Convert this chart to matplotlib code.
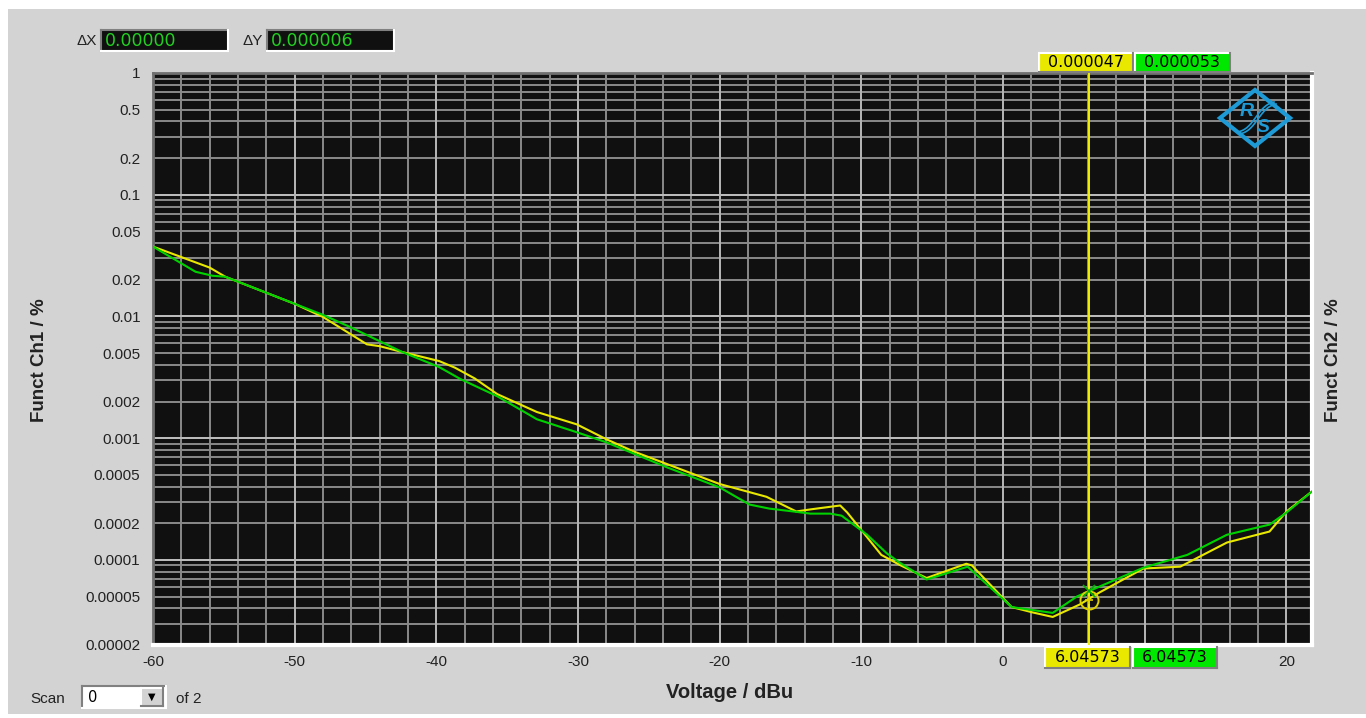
import numpy as np
import matplotlib
matplotlib.use("Agg")
import matplotlib.pyplot as plt
from matplotlib.patches import Rectangle, Polygon
from matplotlib.lines import Line2D
from matplotlib.ticker import FixedLocator, LogLocator, NullFormatter

plt.rcParams['font.family'] = ['Liberation Sans', 'DejaVu Sans']
plt.rcParams['axes.unicode_minus'] = False

W, H = 1366, 718

# Ch1 (yellow) - voltage in dBu / function value in %
ch1_dbu = [-60.0, -56.0, -54.9, -50.0, -48.0, -44.9, -44.0, -42.4, -39.8, -38.7,
           -37.3, -35.7, -32.9, -30.1, -28.0, -26.1, -20.0, -16.7, -14.6, -13.6,
           -11.5, -11.0, -8.6, -7.3, -5.4, -2.6, -2.2, 0.6, 2.1, 3.5,
           5.4, 6.8, 9.9, 12.5, 15.8, 18.8, 20.0, 21.8]
ch1_val = [0.0375, 0.0252, 0.0212, 0.0127, 0.0099, 0.0059, 0.0057, 0.0051, 0.0043, 0.0038,
           0.0031, 0.0023, 0.00164, 0.0013, 0.00098, 0.00078, 0.00042, 0.00033, 0.00025, 0.00026,
           0.00028, 0.000245, 0.00011, 0.000091, 0.000071, 0.000093, 0.00009, 0.000041, 0.000037, 0.000034,
           0.000043, 0.000054, 0.000085, 0.000088, 0.000139, 0.000171, 0.00025, 0.000365]

# Ch2 (green)
ch2_dbu = [-60.0, -57.0, -55.8, -54.9, -50.0, -48.0, -46.1, -42.4, -39.8, -38.3,
           -35.7, -32.9, -30.1, -28.0, -23.7, -20.0, -17.9, -16.5, -14.8, -13.6,
           -12.2, -11.4, -9.6, -8.2, -7.3, -5.4, -2.5, 0.6, 3.5, 5.2,
           6.6, 9.9, 13.0, 15.8, 18.8, 20.0, 21.8]
ch2_val = [0.0375, 0.0233, 0.0216, 0.0212, 0.0127, 0.0103, 0.0082, 0.0051, 0.00384, 0.00306,
           0.00221, 0.00143, 0.00112, 0.000925, 0.000575, 0.000394, 0.000285, 0.000264, 0.00025, 0.00024,
           0.00024, 0.000231, 0.000161, 0.000113, 0.000095, 0.000069, 0.000088, 0.000041, 0.0000367, 0.00005,
           0.000059, 0.0000863, 0.00011, 0.000161, 0.000195, 0.000245, 0.000365]

cursor_x = 6.04573
cursor_ch1 = 0.000047
cursor_ch2 = 0.000053
delta_x = "0.00000"
delta_y = "0.000006"

x_ticks = [-60, -50, -40, -30, -20, -10, 0, 10, 20]
# the "10" label sits under the cursor readout in the original, so it is left blank
x_labels = ["-60", "-50", "-40", "-30", "-20", "-10", "0", "", "20"]
y_ticks = [1, 0.5, 0.2, 0.1, 0.05, 0.02, 0.01, 0.005, 0.002, 0.001,
           0.0005, 0.0002, 0.0001, 0.00005, 0.00002]
y_labels = ["1", "0.5", "0.2", "0.1", "0.05", "0.02", "0.01", "0.005", "0.002", "0.001",
            "0.0005", "0.0002", "0.0001", "0.00005", "0.00002"]

YELLOW = '#e8e800'
GREEN = '#00d200'
PANEL = '#d3d3d3'
TXT = '#222222'


def fx(x):
    return x / W


def fy(y):
    return 1 - y / H


def box(fig, x0, y0, x1, y1, face, sunken=False, text=None, tcolor='black', size=10.5, ha='center', tx=None):
    fig.add_artist(Rectangle((fx(x0), fy(y1)), (x1 - x0) / W, (y1 - y0) / H,
                             transform=fig.transFigure, fc=face, ec='none', zorder=5))
    light, dark = ('#ffffff', '#808080')
    tl, br = (dark, light) if sunken else (light, dark)
    fig.add_artist(Line2D([fx(x0), fx(x1)], [fy(y0), fy(y0)], color=tl, lw=1.5, zorder=6))
    fig.add_artist(Line2D([fx(x0), fx(x0)], [fy(y0), fy(y1)], color=tl, lw=1.5, zorder=6))
    fig.add_artist(Line2D([fx(x0), fx(x1)], [fy(y1), fy(y1)], color=br, lw=1.5, zorder=6))
    fig.add_artist(Line2D([fx(x1), fx(x1)], [fy(y0), fy(y1)], color=br, lw=1.5, zorder=6))
    if text is not None:
        xt = (x0 + x1) / 2 if tx is None else tx
        fig.text(fx(xt), fy((y0 + y1) / 2), text, color=tcolor, fontsize=size,
                 ha=ha, va='center', zorder=7, family='DejaVu Sans')


fig = plt.figure(figsize=(W / 100, H / 100), dpi=100, facecolor='white')
fig.add_artist(Rectangle((fx(8), fy(714)), (W - 8) / W, (714 - 9) / H,
                         transform=fig.transFigure, fc=PANEL, ec='none', zorder=-5))

ax = fig.add_axes([fx(153), fy(645), (1312 - 153) / W, (645 - 73) / H])
ax.set_facecolor('#101010')
ax.set_yscale('log')
ax.set_xlim(-60, 21.8)
ax.set_ylim(2e-5, 1)

ax.set_xticks(x_ticks)
ax.set_xticklabels(x_labels)
ax.set_xticks(np.arange(-60, 22, 2), minor=True)
ax.yaxis.set_major_locator(FixedLocator(y_ticks))
ax.set_yticklabels(y_labels)
ax.yaxis.set_minor_locator(LogLocator(base=10, subs=np.arange(1, 10), numticks=30))
ax.yaxis.set_minor_formatter(NullFormatter())
ax.tick_params(which='both', length=0)
ax.tick_params(axis='y', labelsize=11, colors=TXT, pad=9)
ax.tick_params(axis='x', labelsize=11, colors=TXT, pad=7)

ax.grid(which='both', color='#8a8a8a', lw=1.4)
for d in range(-5, 1):
    ax.axhline(10.0 ** d, color='#bdbdbd', lw=1.4, zorder=1)
for xv in x_ticks:
    ax.axvline(xv, color='#b5b5b5', lw=1.4, zorder=1)
ax.set_axisbelow(True)

for side in ['left', 'top']:
    ax.spines[side].set_color('#707070')
    ax.spines[side].set_linewidth(2)
for side in ['right', 'bottom']:
    ax.spines[side].set_color('white')
    ax.spines[side].set_linewidth(3)

ax.plot(ch1_dbu, ch1_val, color=YELLOW, lw=1.5, zorder=3)
ax.plot(ch2_dbu, ch2_val, color=GREEN, lw=1.5, zorder=3)

ax.axvline(cursor_x, color='#f2f000', lw=1.4, zorder=4)
ax.plot(cursor_x, cursor_ch1, 'o', mfc='none', mec='#e0d000', ms=13, mew=1.4, zorder=5)
ax.plot(cursor_x, cursor_ch1, marker='+', color='#e0d000', ms=6, mew=1.2, zorder=5)
ax.plot(cursor_x, cursor_ch2 * 1.05, marker='x', color='#00b000', ms=9, mew=1.2, zorder=5)

# cursor readouts, positioned from the cursor's pixel location
cx = ax.transData.transform((cursor_x, 1))[0]
box(fig, cx - 50, 53, cx + 44, 72, YELLOW, text=f"{cursor_ch1:.6f}", size=11.5)
box(fig, cx + 46, 53, cx + 141, 72, '#00e800', text=f"{cursor_ch2:.6f}", size=11.5)
box(fig, cx - 44, 647, cx + 41, 668, YELLOW, text=f"{cursor_x:.5f}", size=11.5)
box(fig, cx + 44, 647, cx + 128, 668, '#00e800', text=f"{cursor_x:.5f}", size=11.5)

# delta readouts
fig.text(fx(97), fy(41), "\u0394X", ha='right', va='center', fontsize=11, color=TXT)
box(fig, 101, 30, 228, 51, '#101010', sunken=True, text=delta_x, tcolor='#22d022', size=12.5,
    ha='left', tx=105)
fig.text(fx(263), fy(41), "\u0394Y", ha='right', va='center', fontsize=11, color=TXT)
box(fig, 267, 30, 394, 51, '#101010', sunken=True, text=delta_y, tcolor='#22d022', size=12.5,
    ha='left', tx=271)

# axis titles
fig.text(fx(40), fy(360), "Funct Ch1 / %", rotation=90, ha='center', va='center',
         fontsize=13.5, fontweight='bold', color=TXT)
fig.text(fx(1333), fy(360), "Funct Ch2 / %", rotation=90, ha='center', va='center',
         fontsize=13.5, fontweight='bold', color=TXT)
fig.text(fx(730), fy(692), "Voltage / dBu", ha='center', va='center',
         fontsize=14.5, fontweight='bold', color=TXT)

# scan selector
fig.text(fx(30), fy(699), "Scan", ha='left', va='center', fontsize=11, color=TXT)
box(fig, 82, 686, 166, 708, 'white', sunken=True, text="0", size=10.5, ha='left', tx=88)
box(fig, 141, 688, 163, 706, PANEL, text="\u25BC", size=7)
fig.text(fx(176), fy(699), "of 2", ha='left', va='center', fontsize=11, color=TXT)

# R&S logo
blue = '#1e9bd7'
fig.add_artist(Polygon([(fx(1220), fy(118)), (fx(1255), fy(90)), (fx(1290), fy(118)),
                        (fx(1255), fy(146))], closed=True, fill=False, ec=blue, lw=3,
                       transform=fig.transFigure, zorder=6))
fig.text(fx(1247), fy(111), "R", color=blue, fontsize=14, fontweight='bold', style='italic',
         ha='center', va='center', zorder=7)
fig.text(fx(1263), fy(127), "S", color=blue, fontsize=14, fontweight='bold', style='italic',
         ha='center', va='center', zorder=7)
t = np.linspace(0, 1, 40)
wx = 1238 + 36 * t
wy = 132 - 30 * t + 3 * np.sin(t * 2 * np.pi)
fig.add_artist(Line2D(fx(wx), fy(wy), color=blue, lw=1.2, zorder=7))
fig.add_artist(Line2D(fx(wx + 2), fy(wy + 2), color=blue, lw=1.2, zorder=7))

fig.savefig("out.png", dpi=100, facecolor=fig.get_facecolor())
